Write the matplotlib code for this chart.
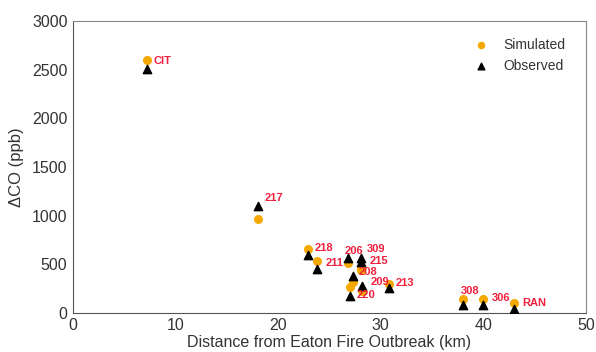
import matplotlib
matplotlib.use('Agg')
import matplotlib.pyplot as plt
import numpy as np

plt.rcParams['font.family'] = ['Liberation Sans', 'DejaVu Sans']

# sites, distance from the fire start (km) and CO enhancement (ppb)
sites = ['CIT', '217', '218', '211', '206', '309', '215', '208', '209', '220', '213', '308', '306', 'RAN']
distance = [7.2, 18.0, 22.9, 23.8, 26.8, 28.1, 28.1, 27.3, 28.2, 27.0, 30.8, 38.0, 40.0, 43.0]
simulated = [2600, 970, 660, 530, 510, 470, 440, 320, 230, 270, 300, 140, 145, 100]
observed = [2510, 1100, 600, 450, 560, 560, 520, 380, 280, 170, 260, 80, 85, 45]

# label nudges in pixels, relative to the observed marker
label_offsets = [(7, 8), (7, 8), (7, 7), (8, 6), (-3, 7), (6, 9), (8, 1), (6, 4),
                 (8, 4), (7, 1), (7, 5), (-2, 14), (8, 7), (8, 6)]

fig = plt.figure(figsize=(5.96, 3.52), dpi=100)
ax = fig.add_axes([0.1225, 0.111, 0.8605, 0.829])

ax.scatter(distance, simulated, s=30, marker='o', color='#F5A800', label='Simulated', zorder=2)
ax.scatter(distance, observed, s=36, marker='^', color='black', label='Observed', zorder=3)

for name, x, y, (dx, dy) in zip(sites, distance, observed, label_offsets):
    ax.annotate(name, (x, y), xytext=(dx, dy), textcoords='offset pixels',
                ha='left', va='center', fontsize=8, fontweight='bold',
                color='#F0203C', zorder=4)

ax.set_xlim(0, 50)
ax.set_ylim(0, 3000)
ax.set_xticks(np.arange(0, 51, 10))
ax.set_yticks(np.arange(0, 3001, 500))
ax.tick_params(length=0, labelsize=11.5, pad=4, colors='#333333')
ax.set_xlabel('Distance from Eaton Fire Outbreak (km)', fontsize=11.5, labelpad=1, color='#333333')
ax.set_ylabel('ΔCO (ppb)', fontsize=12, labelpad=6, color='#333333')

for side in ['left', 'bottom']:
    ax.spines[side].set_color('#555555')
for side in ['top', 'right']:
    ax.spines[side].set_color('#888888')

ax.legend(loc='upper right', frameon=False, fontsize=10, handletextpad=0.6,
          borderaxespad=0.5, bbox_to_anchor=(0.985, 0.985), markerscale=0.8,
          labelcolor='#333333')

plt.savefig('out.png', dpi=100)
